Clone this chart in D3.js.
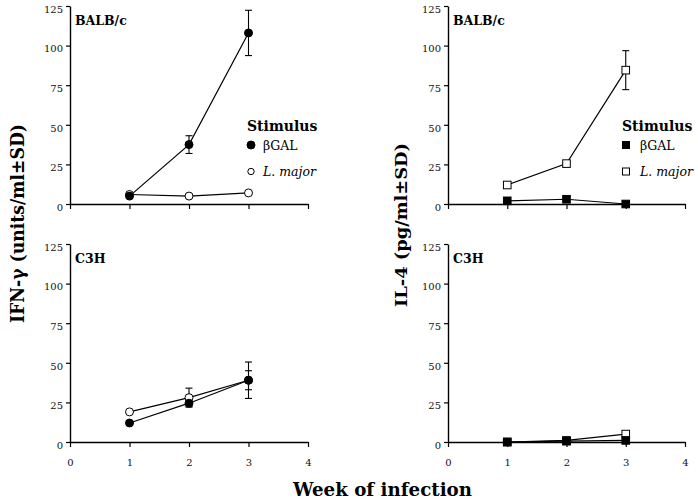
<!DOCTYPE html>
<html><head><meta charset="utf-8">
<script src="https://cdn.jsdelivr.net/npm/d3@7"></script>
<style>body{margin:0;background:#fff}svg{display:block}</style>
</head><body>
<script>
const weeks = [1, 2, 3];
const xTicks = [0, 1, 2, 3, 4];
const yTicks = [0, 25, 50, 75, 100, 125];

// BALB/c IFN-gamma
const balbIfnBgal = [5, 37.5, 108];
const balbIfnBgalSd = [0, 5.6, 14.3];
const balbIfnLmajor = [6, 5, 7];
const balbIfnLmajorSd = [0, 0, 0];
// C3H IFN-gamma
const c3hIfnBgal = [12, 24.5, 39];
const c3hIfnBgalSd = [0, 2, 6];
const c3hIfnLmajor = [19, 28, 39];
const c3hIfnLmajorSd = [0, 6, 11.5];
// BALB/c IL-4
const balbIl4Bgal = [2, 3, 0];
const balbIl4BgalSd = [0, 0, 0];
const balbIl4Lmajor = [12, 25.5, 84.5];
const balbIl4LmajorSd = [0, 0, 12.3];
// C3H IL-4
const c3hIl4Bgal = [0, 0.5, 1];
const c3hIl4BgalSd = [0, 0, 0];
const c3hIl4Lmajor = [0, 1, 5];
const c3hIl4LmajorSd = [0, 0, 0];

const legendLabels = ["βGAL", "L. major"];
const FONT = "'DejaVu Serif', 'Liberation Serif', serif";

const svg = d3.select("body").append("svg").attr("width", 698).attr("height", 501);

const panels = [
  {xr: [70, 308], yr: [204, 6], strain: "BALB/c", shape: "circle", labels: false, legend: true,
   series: [{v: balbIfnLmajor, sd: balbIfnLmajorSd, filled: false}, {v: balbIfnBgal, sd: balbIfnBgalSd, filled: true}]},
  {xr: [70, 308], yr: [442, 244], strain: "C3H", shape: "circle", labels: true, legend: false,
   series: [{v: c3hIfnLmajor, sd: c3hIfnLmajorSd, filled: false}, {v: c3hIfnBgal, sd: c3hIfnBgalSd, filled: true}]},
  {xr: [448, 685], yr: [204, 6], strain: "BALB/c", shape: "square", labels: false, legend: true,
   series: [{v: balbIl4Lmajor, sd: balbIl4LmajorSd, filled: false}, {v: balbIl4Bgal, sd: balbIl4BgalSd, filled: true}]},
  {xr: [448, 685], yr: [442, 244], strain: "C3H", shape: "square", labels: true, legend: false,
   series: [{v: c3hIl4Lmajor, sd: c3hIl4LmajorSd, filled: false}, {v: c3hIl4Bgal, sd: c3hIl4BgalSd, filled: true}]}
];

function marker(g, shape, cx, cy, filled, size) {
  if (shape === "circle") {
    g.append("circle").attr("cx", cx).attr("cy", cy).attr("r", size)
      .attr("fill", filled ? "#000" : "#fff").attr("stroke", "#000").attr("stroke-width", 1);
  } else {
    g.append("rect").attr("x", cx - size).attr("y", cy - size).attr("width", size * 2).attr("height", size * 2)
      .attr("fill", filled ? "#000" : "#fff").attr("stroke", "#000").attr("stroke-width", 1);
  }
}

panels.forEach(p => {
  const x = d3.scaleLinear().domain([0, 4]).range(p.xr);
  const y = d3.scaleLinear().domain([0, 125]).range(p.yr);
  const g = svg.append("g");

  const ya = g.append("g").attr("transform", `translate(${p.xr[0]},0)`)
    .call(d3.axisLeft(y).tickValues(yTicks).tickSize(4).tickSizeOuter(0).tickPadding(3));
  ya.selectAll("text").attr("dy", "0.62em");
  const xa = g.append("g").attr("transform", `translate(0,${p.yr[0]})`)
    .call(d3.axisBottom(x).tickValues(xTicks).tickSize(5).tickSizeOuter(0).tickPadding(12)
      .tickFormat(p.labels ? d3.format("d") : () => ""));
  [ya, xa].forEach(a => {
    a.select(".domain").attr("stroke", "#000").attr("stroke-width", 1.4);
    a.selectAll(".tick line").attr("stroke", "#000").attr("stroke-width", 1.2);
    a.selectAll("text").attr("fill", "#111").style("font-family", FONT).style("font-size", "10px");
  });

  g.append("text").attr("x", p.xr[0] + 5).attr("y", p.yr[1] + (p.yr[0] === 204 ? 19 : 19))
    .text(p.strain).style("font-family", FONT).style("font-size", "12.5px").style("font-weight", "bold");

  const line = d3.line().x((d, i) => x(weeks[i])).y(d => y(d));
  p.series.forEach(s => {
    g.append("path").datum(s.v).attr("d", line).attr("fill", "none").attr("stroke", "#000").attr("stroke-width", 1.2);
  });
  p.series.forEach(s => {
    s.v.forEach((v, i) => {
      if (s.sd[i] > 0) {
        const cx = x(weeks[i]);
        const yt = y(v + s.sd[i]), yb = y(v - s.sd[i]);
        g.append("line").attr("x1", cx).attr("x2", cx).attr("y1", yt).attr("y2", yb).attr("stroke", "#000").attr("stroke-width", 1.1);
        [yt, yb].forEach(yy => g.append("line").attr("x1", cx - 3.5).attr("x2", cx + 3.5).attr("y1", yy).attr("y2", yy)
          .attr("stroke", "#000").attr("stroke-width", 1.1));
      }
    });
  });
  p.series.forEach(s => {
    s.v.forEach((v, i) => marker(g, p.shape, x(weeks[i]), y(v), s.filled, p.shape === "circle" ? 4 : 3.8));
  });

  if (p.legend) {
    const lx = p.shape === "circle" ? 247 : 622;
    const mx = p.shape === "circle" ? 251 : 626;
    const tx = p.shape === "circle" ? 263 : 640;
    g.append("text").attr("x", lx).attr("y", 131).text("Stimulus")
      .style("font-family", FONT).style("font-size", "14px").style("font-weight", "bold");
    marker(g, p.shape, mx, 145, true, p.shape === "circle" ? 4 : 3.5);
    marker(g, p.shape, mx, 171.5, false, p.shape === "circle" ? 3.2 : 3.5);
    g.append("text").attr("x", tx).attr("y", 149.5).text(legendLabels[0])
      .style("font-family", FONT).style("font-size", "12.5px");
    g.append("text").attr("x", tx).attr("y", 175.5).text(legendLabels[1])
      .style("font-family", FONT).style("font-size", "12.5px").style("font-style", "italic");
  }
});

svg.append("text").attr("transform", "translate(23.5,223.5) rotate(-90)").attr("text-anchor", "middle")
  .attr("textLength", 199).attr("lengthAdjust", "spacingAndGlyphs")
  .text("IFN-γ (units/ml±SD)").style("font-family", FONT).style("font-size", "18px").style("font-weight", "bold");
svg.append("text").attr("transform", "translate(406.5,225) rotate(-90)").attr("text-anchor", "middle")
  .attr("textLength", 164).attr("lengthAdjust", "spacingAndGlyphs")
  .text("IL-4 (pg/ml±SD)").style("font-family", FONT).style("font-size", "17px").style("font-weight", "bold");
svg.append("text").attr("x", 382.5).attr("y", 496).attr("text-anchor", "middle")
  .attr("textLength", 179).attr("lengthAdjust", "spacingAndGlyphs")
  .text("Week of infection").style("font-family", FONT).style("font-size", "18px").style("font-weight", "bold");
</script>
</body></html>
